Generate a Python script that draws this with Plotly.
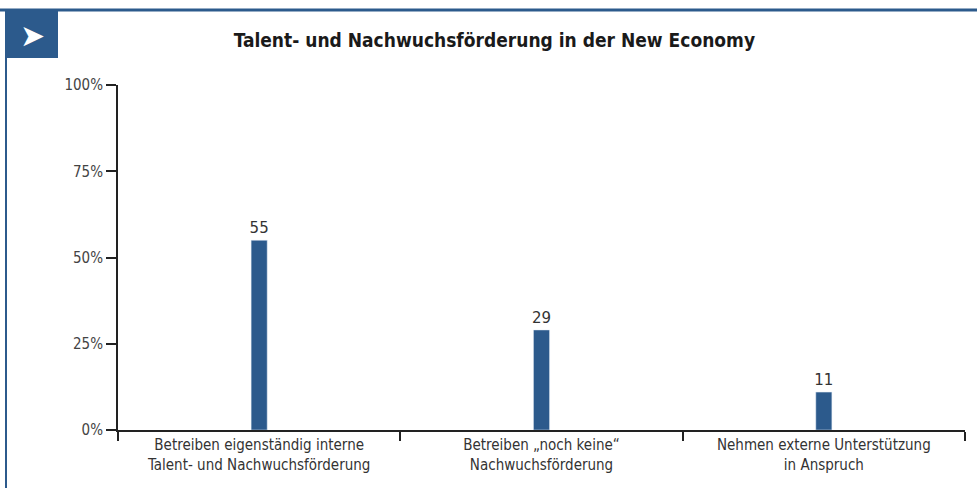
import plotly.graph_objects as go

categories = ["Betreiben eigenständig interne<br>Talent- und Nachwuchsförderung",
              "Betreiben „noch keine“<br>Nachwuchsförderung",
              "Nehmen externe Unterstützung<br>in Anspruch"]
values = [55, 29, 11]
tick_vals = [0, 25, 50, 75, 100]
tick_text = ["0%", "25%", "50%", "75%", "100%"]
title = "Talent- und Nachwuchsförderung in der New Economy"

blue = "#2c5a8c"
font_fam = "Liberation Sans Narrow, DejaVu Sans Condensed, sans-serif"

fig = go.Figure(go.Bar(
    x=categories, y=values, marker_color=blue, width=0.057,
    text=[str(v) for v in values], textposition="outside",
    textfont=dict(size=15, color="#333", family="DejaVu Sans"),
    constraintext="none",
    cliponaxis=False,
))

fig.update_layout(
    width=977, height=488,
    margin=dict(l=118, r=12, t=85, b=58),
    paper_bgcolor="white", plot_bgcolor="white",
    showlegend=False,
    font=dict(family=font_fam, color="#333", size=14),
    title=dict(text="<b>" + title + "</b>", x=0.506, xanchor="center",
               y=1 - 40 / 488, yanchor="middle",
               font=dict(size=19, color="#1a1a1a", family=font_fam)),
    xaxis=dict(type="category", range=[-0.5, 2.5], showline=True, linecolor="#222",
               linewidth=2, ticks="outside", tickson="boundaries", ticklen=9,
               tickwidth=2, tickcolor="#222", showgrid=False,
               tickfont=dict(size=15, color="#333")),
    yaxis=dict(range=[0, 100], tickvals=tick_vals, ticktext=tick_text,
               showline=True, linecolor="#222", linewidth=2, ticks="outside",
               ticklen=10, tickwidth=2, tickcolor="#222", showgrid=False,
               zeroline=False, tickfont=dict(size=15, color="#444")),
    shapes=[
        dict(type="line", xref="paper", yref="paper", x0=-118/847, x1=1 + 12/847,
             y0=1 + (85 - 10) / 345, y1=1 + (85 - 10) / 345,
             line=dict(color=blue, width=3)),
        dict(type="rect", xref="paper", yref="paper", x0=-113/847, x1=-60/847,
             y0=1 + (85 - 58) / 345, y1=1 + (85 - 10) / 345,
             fillcolor=blue, line=dict(width=0)),
        dict(type="line", xref="paper", yref="paper", x0=-112/847, x1=-112/847,
             y0=-58/345, y1=1 + (85 - 58) / 345,
             line=dict(color=blue, width=2)),
    ],
    annotations=[
        dict(text="➤", xref="paper", yref="paper", x=-86/847, y=1 + (85 - 35) / 345,
             xanchor="center", yanchor="middle", showarrow=False,
             font=dict(size=30, color="white", family="DejaVu Sans")),
    ],
)

fig.write_html("out.html")
